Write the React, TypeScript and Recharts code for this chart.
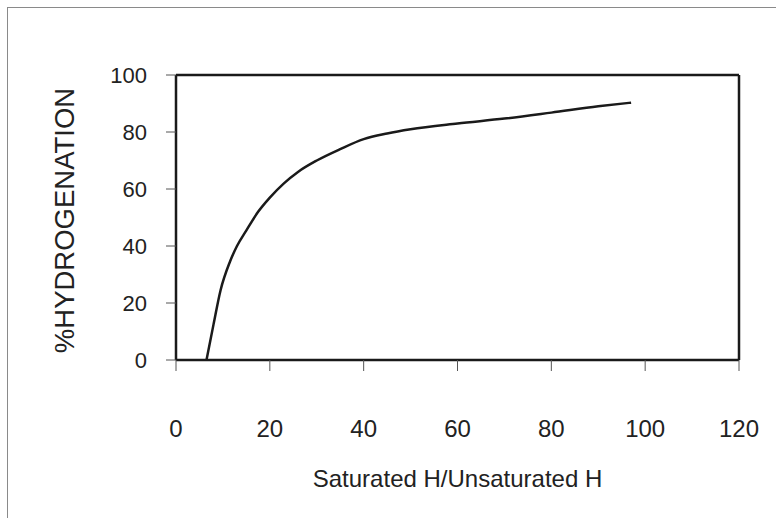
import { CartesianGrid, Line, LineChart, ReferenceLine, XAxis, YAxis } from "recharts"

// ratio of saturated to unsaturated H
const ratio = [6.5, 8, 9.5, 11.5, 13, 15, 17.5, 20, 23, 26, 30, 35, 40, 45, 50, 60, 70, 80, 90, 97]
const hydrogenation = [0, 12.5, 24.5, 34.5, 40, 45.5, 52, 57, 62, 66, 70, 74, 77.5, 79.5, 81, 83, 84.7, 86.8, 89, 90.3]

const xTicks = [0, 20, 40, 60, 80, 100, 120]
const yTicks = [0, 20, 40, 60, 80, 100]

const font = "Arial, 'Liberation Sans', Helvetica, sans-serif"
const ink = "#1a1a1a"

const data = ratio.map((r, i) => ({ ratio: r, pct: hydrogenation[i] }))

const App = () => {
  return (
    <div style={{ position: "absolute", left: 0, top: 0, width: 776, height: 518, background: "#fff" }}>
      <div
        style={{
          position: "absolute",
          left: 7,
          top: 7,
          right: 0,
          bottom: 0,
          borderTop: "1px solid #8a8a8a",
          borderLeft: "1px solid #8a8a8a",
        }}
      />
      <LineChart
        width={776}
        height={518}
        data={data}
        margin={{ top: 75, right: 37, left: 0, bottom: 0 }}
        style={{ position: "absolute", left: 0, top: 0, fontFamily: font }}
      >
        <CartesianGrid stroke="none" />
        <XAxis
          dataKey="ratio"
          type="number"
          domain={[0, 120]}
          ticks={xTicks}
          height={158}
          axisLine={{ stroke: ink, strokeWidth: 2.5 }}
          tickLine={{ stroke: "#555", strokeWidth: 1 }}
          tickSize={11}
          tickMargin={49}
          tick={{ fill: "#222", fontSize: 24, fontFamily: font }}
          label={{
            content: ({ viewBox }: any) => (
              <text
                x={viewBox.x + viewBox.width / 2}
                y={487}
                textAnchor="middle"
                fill="#222"
                fontSize={24}
                fontFamily={font}
              >
                Saturated H/Unsaturated H
              </text>
            ),
          }}
        />
        <YAxis
          type="number"
          domain={[0, 100]}
          ticks={yTicks}
          width={176}
          axisLine={{ stroke: ink, strokeWidth: 2.5 }}
          tickLine={{ stroke: "#555", strokeWidth: 1 }}
          tickSize={10}
          tickMargin={19}
          tick={{ fill: "#222", fontSize: 22, fontFamily: font }}
          label={{
            content: ({ viewBox }: any) => {
              const cx = 64
              const cy = viewBox.y + viewBox.height / 2 + 3
              return (
                <text
                  x={cx}
                  y={cy}
                  transform={`rotate(-90, ${cx}, ${cy})`}
                  textAnchor="middle"
                  dominantBaseline="central"
                  fill="#222"
                  fontSize={27.5}
                  fontFamily={font}
                >
                  %HYDROGENATION
                </text>
              )
            },
          }}
        />
        <ReferenceLine y={100} stroke={ink} strokeWidth={2.5} />
        <ReferenceLine x={120} stroke={ink} strokeWidth={2.5} />
        <Line
          dataKey="pct"
          type="monotone"
          stroke={ink}
          strokeWidth={2.5}
          dot={false}
          isAnimationActive={false}
        />
      </LineChart>
    </div>
  )
}

export default App
